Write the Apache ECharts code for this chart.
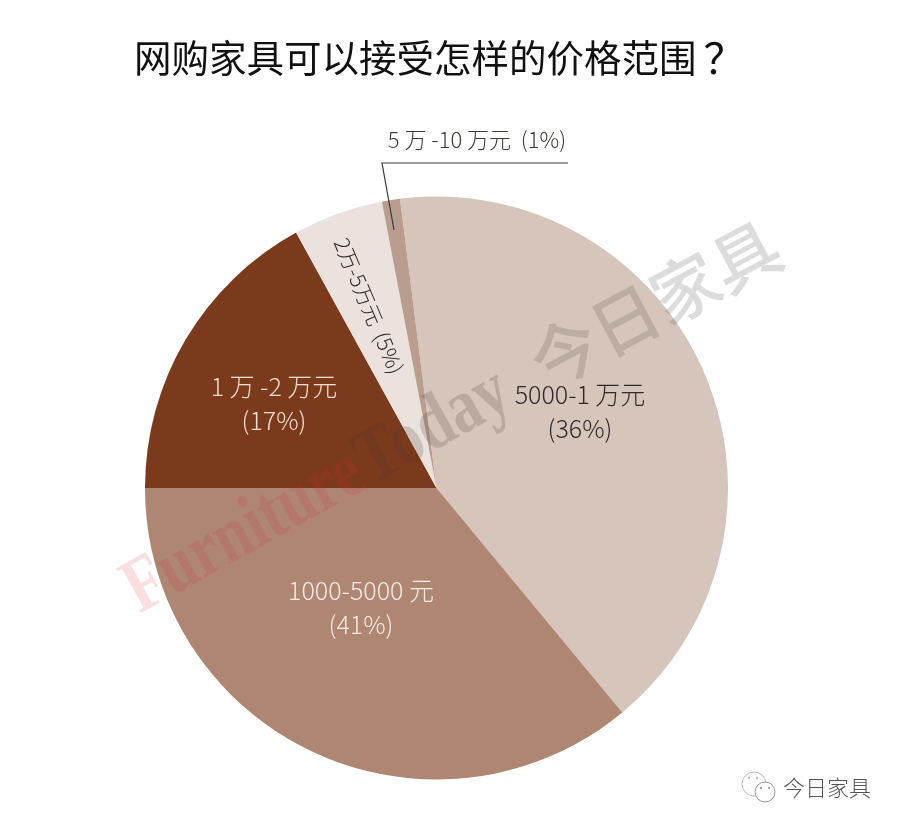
<!DOCTYPE html>
<html><head><meta charset="utf-8">
<style>html,body{margin:0;padding:0;background:#fff}#c{width:900px;height:828px}</style>
<script src="https://cdn.jsdelivr.net/npm/echarts@6/dist/echarts.min.js"></script>
</head><body><div id="c"></div>
<script>
// Slice sizes as drawn in the reference (its printed labels for the two largest slices are the other way round).
var categories = ['5000-1 万元','1000-5000 元','1 万 -2 万元','2万-5万元','5 万 -10 万元'];
var drawnValues = [41, 36, 17, 5, 1];
var printedPercents = ['36%','41%','17%','5%','1%'];
var sliceColors = ['#d6c5ba','#ae8672','#7c3a1c','#ebe2de','#b99d8f'];

var labelTexts = [
  categories[0]+'\n('+printedPercents[0]+')',
  categories[1]+'\n('+printedPercents[1]+')',
  categories[2]+'\n('+printedPercents[2]+')',
  categories[3]+'  ('+printedPercents[3]+')',
  categories[4]+'  ('+printedPercents[4]+')'
];
var labelSpots = [
  {x:580,y:411,rotate:0,color:'#2f2927',size:25},
  {x:361,y:607,rotate:0,color:'#f7ebe3',size:25},
  {x:274,y:403,rotate:0,color:'#f2dccd',size:25},
  {x:369,y:306,rotate:-67,color:'#2f2927',size:21},
  {x:477,y:140,rotate:0,color:'#3f3a38',size:22}
];
var font = '"Noto Sans CJK SC","Noto Sans",sans-serif';

var chart = echarts.init(document.getElementById('c'), null, {renderer:'canvas'});
chart.setOption({
  animation:false,
  backgroundColor:'#fff',
  title:{text:'{a|网购家具可以接受怎样的价格范围}{b|？}',left:129,top:32,
    textStyle:{rich:{
      a:{fontFamily:font,fontSize:37.5,fontWeight:400,color:'#111'},
      b:{fontFamily:font,fontSize:42,fontWeight:400,color:'#111',padding:[0,0,0,7]}
    }}},
  series:[{
    type:'pie',
    center:[436.5,488],
    radius:[0,291.5],
    startAngle:97.2,
    clockwise:true,
    silent:true,
    avoidLabelOverlap:false,
    data:categories.map(function(n,i){
      return {name:n,value:drawnValues[i],itemStyle:{color:sliceColors[i]},
        label:{color:labelSpots[i].color,fontSize:labelSpots[i].size}};
    }),
    label:{show:true,position:'inside',fontFamily:font,fontWeight:300,lineHeight:34,
      align:'center',verticalAlign:'middle',
      formatter:function(p){return labelTexts[p.dataIndex];}},
    labelLine:{show:false},
    labelLayout:function(p){
      var s=labelSpots[p.dataIndex];
      return {x:s.x,y:s.y,rotate:s.rotate,align:'center',verticalAlign:'middle'};
    }
  }],
  graphic:[
    {type:'polyline',z:50,shape:{points:[[568,163],[382,163],[394,230]]},
      style:{stroke:'#3a3a3a',lineWidth:1.2,fill:null}},
    {type:'text',z:60,x:130,y:596,rotation:29*Math.PI/180,scaleX:0.8,
      style:{text:'{a|Furniture} {b|Today}',align:'left',verticalAlign:'middle',
        rich:{
          a:{font:'bold 78px "Liberation Serif",serif',fill:'rgba(215,40,50,0.15)'},
          b:{font:'bold 78px "Liberation Serif",serif',fill:'rgba(70,60,50,0.2)'}
        }}},
    {type:'text',z:60,x:655,y:304,rotation:28*Math.PI/180,
      style:{text:'今日家具',align:'center',verticalAlign:'middle',
        font:'500 68px "Noto Sans CJK SC",sans-serif',fill:'rgba(80,80,80,0.2)'}},
    {type:'text',z:60,x:783,y:788,
      style:{text:'今日家具',align:'left',verticalAlign:'middle',
        font:'300 22px "Noto Sans CJK SC",sans-serif',fill:'#555'}},
    {type:'circle',z:60,shape:{cx:754,cy:784,r:12},style:{fill:'#fff',stroke:'#bbb',lineWidth:1}},
    {type:'circle',z:61,shape:{cx:765,cy:792,r:10},style:{fill:'#fff',stroke:'#999',lineWidth:1}},
    {type:'circle',z:62,shape:{cx:749,cy:778,r:1},style:{fill:'#aaa'}},
    {type:'circle',z:62,shape:{cx:757,cy:778,r:1},style:{fill:'#aaa'}},
    {type:'circle',z:62,shape:{cx:761,cy:788,r:1},style:{fill:'#888'}},
    {type:'circle',z:62,shape:{cx:769,cy:788,r:1},style:{fill:'#888'}}
  ]
});
</script></body></html>
